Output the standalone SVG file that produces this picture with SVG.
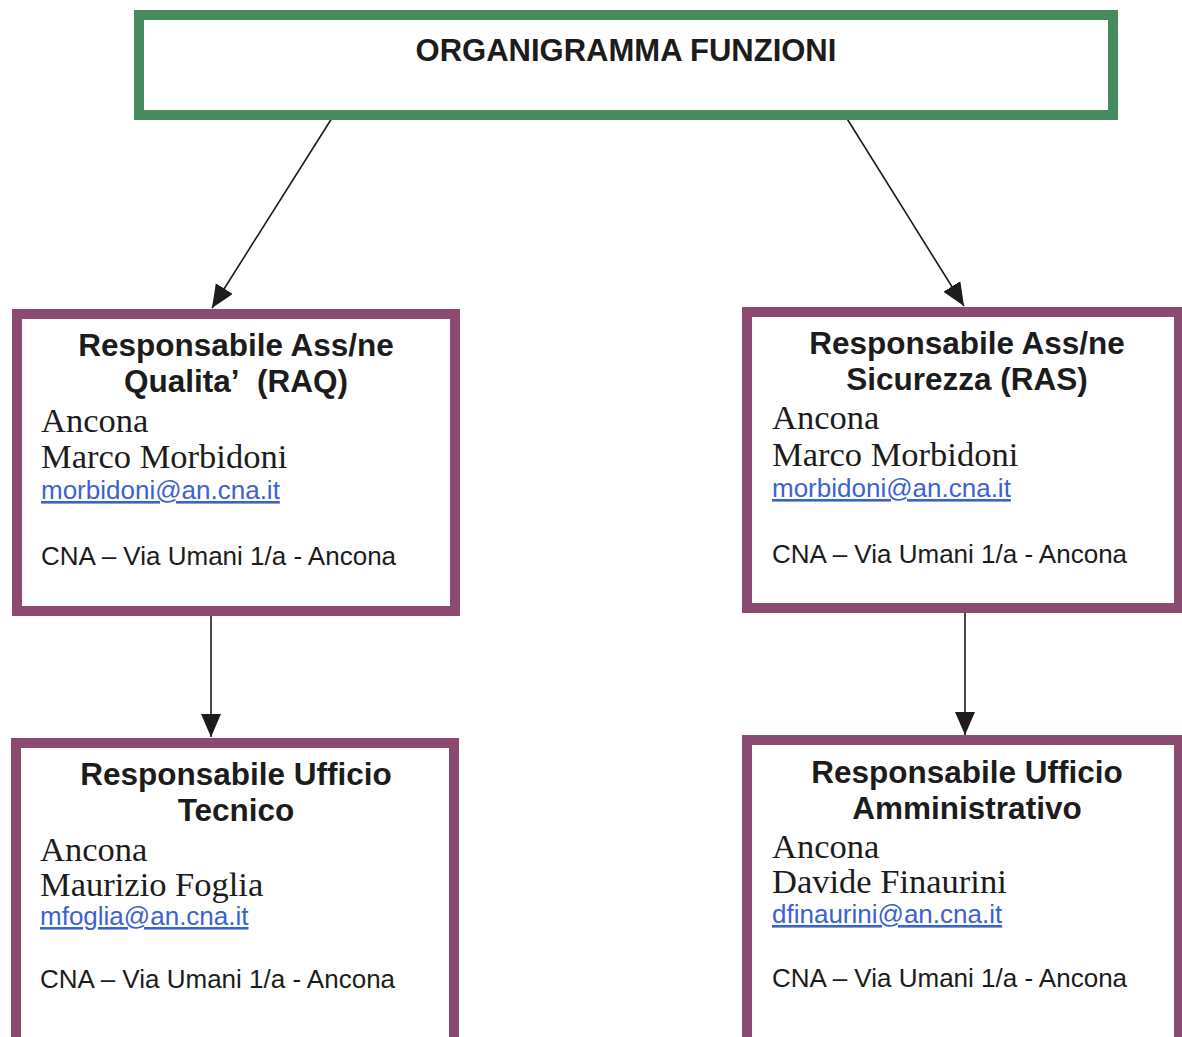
<svg xmlns="http://www.w3.org/2000/svg" width="1182" height="1037" viewBox="0 0 1182 1037">
<style>
.g{fill:#fff;stroke:#468a5e;stroke-width:10}
.p{fill:#fff;stroke:#8c4a70;stroke-width:10}
.h{font-family:"Liberation Sans",Arial,sans-serif;font-weight:bold;font-size:31.5px;fill:#1c1c1c;text-anchor:middle}
.s{font-family:"Liberation Serif","Times New Roman",serif;font-size:34.5px;fill:#1c1c1c}
.e{font-family:"Liberation Sans",Arial,sans-serif;font-size:26px;fill:#3b63cf;text-decoration:underline}
.c{font-family:"Liberation Sans",Arial,sans-serif;font-size:26px;fill:#1c1c1c}
.ln{stroke:#1c1c1c;stroke-width:1.6;fill:none;marker-end:url(#ah)}
</style>
<defs>
<marker id="ah" markerUnits="userSpaceOnUse" markerWidth="26" markerHeight="22" refX="23" refY="10" orient="auto">
<path d="M0,0 L23,10 L0,20 Z" fill="#1c1c1c"/>
</marker>
</defs>
<rect width="1182" height="1037" fill="#fff"/>
<g id="connectors">
<line class="ln" x1="332" y1="118" x2="212" y2="308"/>
<line class="ln" x1="846" y1="117" x2="964" y2="306"/>
<line class="ln" x1="211" y1="616" x2="211" y2="737"/>
<line class="ln" x1="965" y1="613" x2="965" y2="735"/>
</g>
<g id="title">
<rect class="g" x="139" y="15" width="974" height="100"/>
<text x="626" y="61" style="font-family:'Liberation Sans',Arial,sans-serif;font-weight:bold;font-size:31px;fill:#1c1c1c;text-anchor:middle">ORGANIGRAMMA FUNZIONI</text>
</g>
<g id="raq">
<rect class="p" x="17" y="314" width="438" height="297"/>
<text class="h" x="236" y="356">Responsabile Ass/ne</text>
<text class="h" x="236" y="392">Qualita’&#160; (RAQ)</text>
<text class="s" x="41" y="432">Ancona</text>
<text class="s" x="41" y="468">Marco Morbidoni</text>
<text class="e" x="41" y="499">morbidoni@an.cna.it</text>
<text class="c" x="41" y="565">CNA – Via Umani 1/a - Ancona</text>
</g>
<g id="ras">
<rect class="p" x="747" y="312" width="432" height="296"/>
<text class="h" x="967" y="354">Responsabile Ass/ne</text>
<text class="h" x="967" y="390">Sicurezza (RAS)</text>
<text class="s" x="772" y="429">Ancona</text>
<text class="s" x="772" y="466">Marco Morbidoni</text>
<text class="e" x="772" y="497">morbidoni@an.cna.it</text>
<text class="c" x="772" y="563">CNA – Via Umani 1/a - Ancona</text>
</g>
<g id="tecnico">
<rect class="p" x="16" y="743" width="438" height="310"/>
<text class="h" x="236" y="785">Responsabile Ufficio</text>
<text class="h" x="236" y="821">Tecnico</text>
<text class="s" x="40" y="861">Ancona</text>
<text class="s" x="40" y="896">Maurizio Foglia</text>
<text class="e" x="40" y="925">mfoglia@an.cna.it</text>
<text class="c" x="40" y="988">CNA – Via Umani 1/a - Ancona</text>
</g>
<g id="amministrativo">
<rect class="p" x="747" y="740" width="432" height="310"/>
<text class="h" x="967" y="783">Responsabile Ufficio</text>
<text class="h" x="967" y="819">Amministrativo</text>
<text class="s" x="772" y="858">Ancona</text>
<text class="s" x="772" y="893">Davide Finaurini</text>
<text class="e" x="772" y="923">dfinaurini@an.cna.it</text>
<text class="c" x="772" y="987">CNA – Via Umani 1/a - Ancona</text>
</g>
</svg>
